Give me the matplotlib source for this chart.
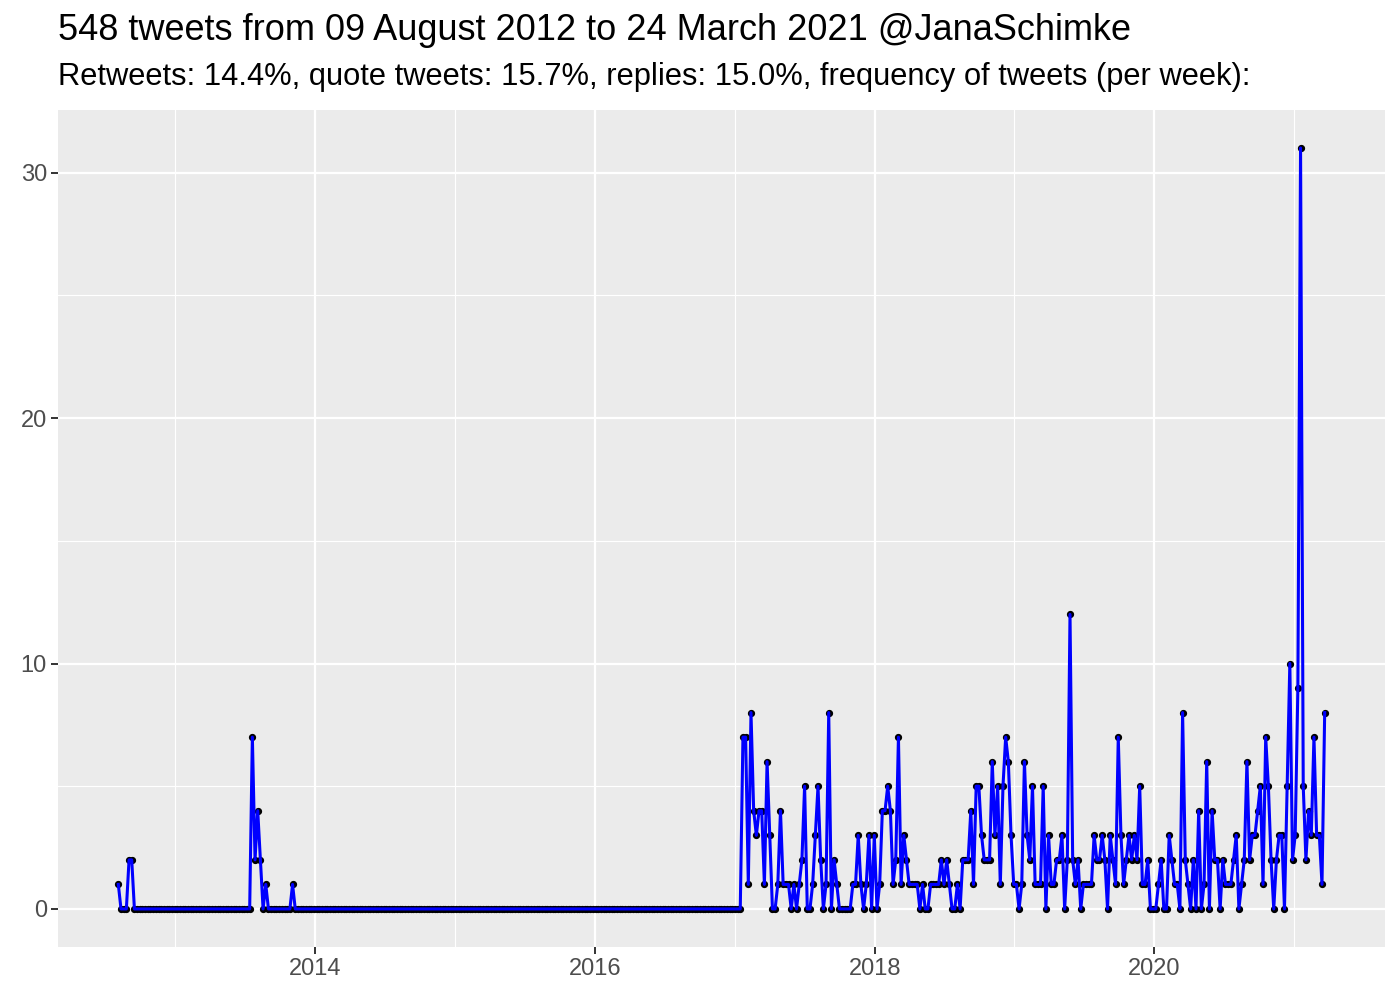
import numpy as np
import pandas as pd
import matplotlib
matplotlib.use('Agg')
import matplotlib.pyplot as plt
import matplotlib.dates as mdates

plt.rcParams['font.family'] = ['Liberation Sans', 'DejaVu Sans']

# weekly tweet counts (weeks starting Sunday 2012-08-05)
early_weeks = [1, 0, 0, 0, 2, 2] + [0] * 44 + [7, 2, 4, 2, 0, 1] + [0] * 9 + [1]
quiet_weeks = [0] * 167
late_weeks = [
    7, 7, 1, 8, 4, 3, 4, 4, 1, 6,
    3, 0, 0, 1, 4, 1, 1, 1, 0, 1,
    0, 1, 2, 5, 0, 0, 1, 3, 5, 2,
    0, 1, 8, 0, 2, 1, 0, 0, 0, 0,
    0, 1, 1, 3, 1, 0, 1, 3, 0, 3,
    0, 1, 4, 4, 5, 4, 1, 2, 7, 1,
    3, 2, 1, 1, 1, 1, 0, 1, 0, 0,
    1, 1, 1, 1, 2, 1, 2, 1, 0, 0,
    1, 0, 2, 2, 2, 4, 1, 5, 5, 3,
    2, 2, 2, 6, 3, 5, 1, 5, 7, 6,
    3, 1, 1, 0, 1, 6, 3, 2, 5, 1,
    1, 1, 5, 0, 3, 1, 1, 2, 2, 3,
    0, 2, 12, 2, 1, 2, 0, 1, 1, 1,
    1, 3, 2, 2, 3, 2, 0, 3, 2, 1,
    7, 3, 1, 2, 3, 2, 3, 2, 5, 1,
    1, 2, 0, 0, 0, 1, 2, 0, 0, 3,
    2, 1, 1, 0, 8, 2, 1, 0, 2, 0,
    4, 0, 1, 6, 0, 4, 2, 2, 0, 2,
    1, 1, 1, 2, 3, 0, 1, 2, 6, 2,
    3, 3, 4, 5, 1, 7, 5, 2, 0, 2,
    3, 3, 0, 5, 10, 2, 3, 9, 31, 5,
    2, 4, 3, 7, 3, 3, 1, 8,
]
counts = early_weeks + quiet_weeks + late_weeks
weeks = pd.date_range('2012-08-05', periods=len(counts), freq='7D')

title = '548 tweets from 09 August 2012 to 24 March 2021 @JanaSchimke'
subtitle = ('Retweets: 14.4%, quote tweets: 15.7%, replies: 15.0%, '
            'frequency of tweets (per week):')

fig = plt.figure(figsize=(14, 10), dpi=100)
ax = fig.add_axes([58 / 1400, 53 / 1000, 1327 / 1400, 837 / 1000])
ax.set_facecolor('#EBEBEB')

ax.plot(weeks, counts, 'o', color='black', markersize=4.2, zorder=3)
ax.plot(weeks, counts, '-', color='#0000FF', linewidth=2.2, zorder=4)

ax.margins(x=0.05, y=0.05)

ax.xaxis.set_major_formatter(mdates.DateFormatter('%Y'))
ax.set_xticks(pd.to_datetime(['2014-01-01', '2016-01-01', '2018-01-01', '2020-01-01']))
ax.set_xticks(pd.to_datetime(['2013-01-01', '2015-01-01', '2017-01-01',
                              '2019-01-01', '2021-01-01']), minor=True)
ax.set_yticks([0, 10, 20, 30])
ax.set_yticks([5, 15, 25], minor=True)

ax.grid(which='major', color='white', linewidth=1.6)
ax.grid(which='minor', color='white', linewidth=0.8)
ax.set_axisbelow(True)
for s in ax.spines.values():
    s.set_visible(False)

ax.tick_params(which='major', length=5, width=1.4, color='#333333',
               labelcolor='#4D4D4D', labelsize=17, pad=3)
ax.tick_params(which='minor', length=0)

fig.text(58 / 1400, 1 - 31 / 1000, title, fontsize=26, va='center', ha='left')
fig.text(58 / 1400, 1 - 77 / 1000, subtitle, fontsize=22.2, va='center', ha='left')

fig.savefig('out.png', dpi=100)
